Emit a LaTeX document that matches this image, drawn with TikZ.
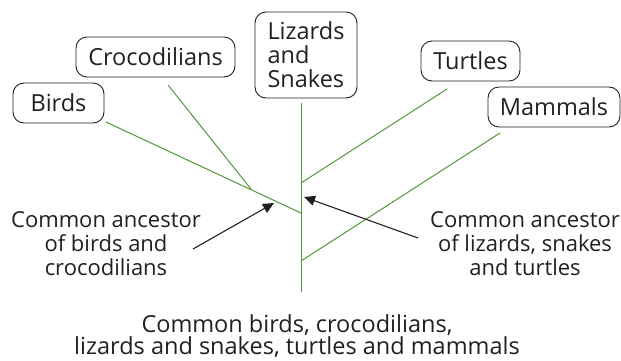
\documentclass[tikz,border=0pt]{standalone}
\usepackage{fontspec}
\setmainfont{Open Sans}
\usetikzlibrary{arrows.meta}
\definecolor{branch}{RGB}{80,150,60}
\definecolor{ink}{RGB}{35,31,32}
\begin{document}
\begin{tikzpicture}[x=1pt,y=-1pt,
  taxon/.style={draw=ink,line width=0.9pt,rounded corners=11pt,inner sep=0pt,
    minimum height=40pt,font=\fontsize{23.5}{24}\selectfont,text=ink},
  branchline/.style={draw=branch,line width=1pt},
  pointer/.style={draw=ink,line width=1.1pt,-{Triangle[length=11pt,width=10pt]}},
  label/.style={align=center,font=\fontsize{22}{24}\selectfont,text=ink,inner sep=0pt}]
\useasboundingbox (0,0) rectangle (621,360);
% taxa boxes
\node[taxon,minimum width=91pt] (birds) at (58.5,103) {Birds};
\node[taxon,minimum width=159pt] (croc) at (155.5,57) {Crocodilians};
\node[taxon,minimum width=102pt,minimum height=86pt,align=left] (liz) at (306,55) {Lizards\\and\\Snakes};
\node[taxon,minimum width=99pt] (turt) at (470.5,61) {Turtles};
\node[taxon,minimum width=132pt] (mamm) at (554,107) {Mammals};
% branch points
\coordinate (bstart) at (106,122);
\coordinate (cstart) at (168,85);
\coordinate (lstart) at (301,103);
\coordinate (tstart) at (447,89);
\coordinate (mstart) at (500,133);
\coordinate (bc) at (251,189);
\coordinate (root1) at (301,213);
\coordinate (lt) at (301,183);
\coordinate (root2) at (301,261);
\coordinate (base) at (301,292);
% branches
\draw[branchline] (bstart) -- (root1);
\draw[branchline] (cstart) -- (bc);
\draw[branchline] (lstart) -- (base);
\draw[branchline] (tstart) -- (lt);
\draw[branchline] (mstart) -- (root2);
% labels
\node[label,anchor=base] (anc1) at (106,275) {Common ancestor\\of birds and\\crocodilians};
\node[label,anchor=base] (anc2) at (525,275) {Common ancestor\\of lizards, snakes\\and turtles};
\node[label,anchor=base,font=\fontsize{23.5}{22}\selectfont] (all) at (297,354) {Common birds, crocodilians,\\lizards and snakes, turtles and mammals};
% pointers
\coordinate (p1tail) at (193,249);
\coordinate (p1tip) at (274,203);
\coordinate (p2tail) at (418,238);
\coordinate (p2tip) at (304,197);
\draw[pointer] (p1tail) -- (p1tip);
\draw[pointer] (p2tail) -- (p2tip);
\end{tikzpicture}
\end{document}
